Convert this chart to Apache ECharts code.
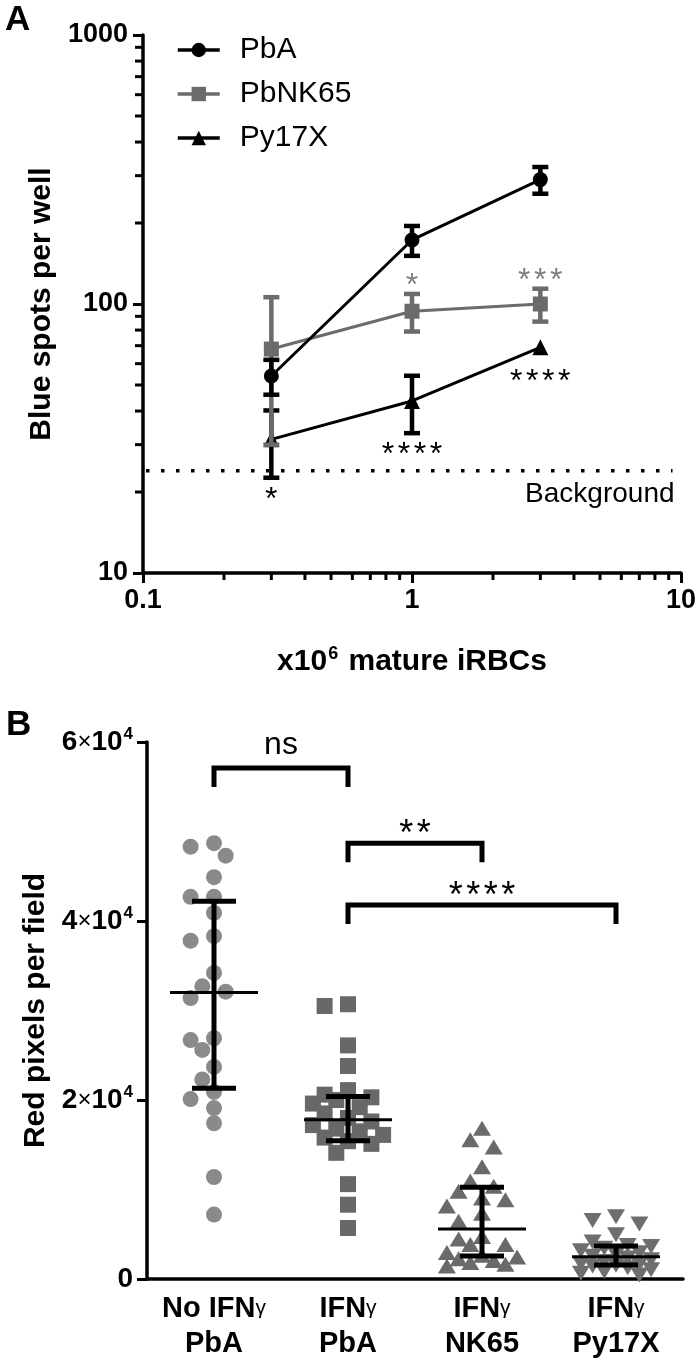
<!DOCTYPE html>
<html><head><meta charset="utf-8">
<script src="https://cdn.jsdelivr.net/npm/echarts@6/dist/echarts.min.js"></script>
<style>html,body{margin:0;padding:0;background:#fff}#c{width:700px;height:1366px}</style>
</head><body><div id="c"></div>
<script>
// ---------- Panel A data ----------
const doseA = [0.3, 1, 3];
const pbaMean = [54, 173, 290];
const pbaErr = [8, 22, 33];
const nk65Mean = [68, 94, 100];
const nk65Err = [38, 15, 14];
const py17Mean = [31.4, 43.6, 69];
const py17Err = [8.8, 10.5, 0];
const backgroundLevel = 24;
const backgroundRange = [0.1, 9.3];
const xTickLabelsA = ['0.1', '1', '10'];
const yTickLabelsA = ['10', '100', '1000'];
const sigAX = [0.3, 1, 3, 1, 3];
const sigASeries = ['Py17X', 'PbNK65', 'PbNK65', 'Py17X', 'Py17X'];
const sigASide = ['below', 'above', 'above', 'below', 'below'];
const sigAText = ['*', '*', '***', '****', '****'];

// ---------- Panel B data ----------
const catsB = ['No IFNγ\nPbA', 'IFNγ\nPbA', 'IFNγ\nNK65', 'IFNγ\nPy17X'];
const noIfnPbA = [48700, 48300, 47300, 44900, 42700, 42700, 40900, 37800, 38300, 34200, 32700, 32100, 31400, 26900, 26700, 25600, 23700, 22300, 20900, 20100, 19100, 17400, 11400, 7200];
const ifnPbA = [30700, 30500, 26100, 23800, 21100, 20600, 20300, 20000, 19600, 19200, 18500, 18000, 17600, 17200, 16800, 16500, 16100, 15800, 15400, 15100, 14100, 10600, 8300, 5700];
const ifnNK65 = [16800, 15500, 14700, 12500, 10900, 10300, 9750, 9000, 8800, 8100, 7300, 6400, 4700, 4400, 3800, 3800, 2900, 2600, 2400, 2200, 2000, 1800, 1600, 1400];
const ifnPy17X = [7000, 6600, 6200, 5000, 4200, 3800, 3700, 3500, 3200, 3000, 2800, 2600, 2400, 2200, 2000, 1800, 1700, 1600, 1500, 1300, 1100, 900, 700, 500];
const medianB = [32000, 17800, 5600, 2500];
const q1B = [21300, 15450, 2570, 1560];
const q3B = [42200, 20400, 10250, 3700];
const yTicksB = [0, 20000, 40000, 60000];
const bracketFrom = [0, 1, 1];
const bracketTo = [1, 2, 3];
const bracketLevel = [57100, 48700, 41800];
const bracketText = ['ns', '**', '****'];

// ---------- styles ----------
const FONT = '"Liberation Sans", Arial, sans-serif';
const BLACK = '#000';
const GRAY = '#6b6b6b';
const GRAY_STAR = '#808080';

const chart = echarts.init(document.getElementById('c'));

const seriesA = {
  'PbA': {mean: pbaMean, err: pbaErr, color: BLACK, symbol: 'circle', size: 15},
  'PbNK65': {mean: nk65Mean, err: nk65Err, color: GRAY, symbol: 'rect', size: 15},
  'Py17X': {mean: py17Mean, err: py17Err, color: BLACK, symbol: 'triangle', size: 16}
};

function errRender(color) {
  return function (params, api) {
    const x = api.value(0), m = api.value(1), e = api.value(2);
    if (!e) return null;
    const t = api.coord([x, m + e]), b = api.coord([x, m - e]);
    const cap = 8, lw = 4.5;
    return {type: 'group', children: [
      {type: 'line', shape: {x1: t[0], y1: t[1], x2: b[0], y2: b[1]}, style: {stroke: color, lineWidth: lw}},
      {type: 'line', shape: {x1: t[0] - cap, y1: t[1], x2: t[0] + cap, y2: t[1]}, style: {stroke: color, lineWidth: lw}},
      {type: 'line', shape: {x1: b[0] - cap, y1: b[1], x2: b[0] + cap, y2: b[1]}, style: {stroke: color, lineWidth: lw}}
    ]};
  };
}

function starTexts(cx, cy, text, F, spacing, color) {
  const n = text.length, out = [];
  for (let i = 0; i < n; i++) {
    out.push({type: 'text', style: {text: text[i], x: cx + (i - (n - 1) / 2) * spacing, y: cy + 0.225 * F,
      textAlign: 'center', textVerticalAlign: 'middle', font: F + 'px ' + FONT, fill: color}});
  }
  return out;
}

const series = [];

// minor ticks for the log axes of panel A
const minorTicks = [];
[10, 100].forEach(d => { for (let k = 2; k <= 9; k++) minorTicks.push(k * d); });
const minorTicksX = [];
[0.1, 1].forEach(d => { for (let k = 2; k <= 9; k++) minorTicksX.push(+(k * d).toPrecision(3)); });
series.push({
  type: 'custom', xAxisIndex: 0, yAxisIndex: 0, clip: false, silent: true, z: 1,
  data: [[1, 100]],
  renderItem: function (params, api) {
    const ch = [];
    minorTicks.forEach(v => {
      const p = api.coord([0.1, v]);
      ch.push({type: 'line', shape: {x1: p[0] - 8, y1: p[1], x2: p[0], y2: p[1]}, style: {stroke: BLACK, lineWidth: 3}});
    });
    minorTicksX.forEach(v => {
      const p = api.coord([v, 10]);
      ch.push({type: 'line', shape: {x1: p[0], y1: p[1], x2: p[0], y2: p[1] + 7}, style: {stroke: BLACK, lineWidth: 3}});
    });
    return {type: 'group', children: ch};
  }
});

// background dotted line
series.push({
  type: 'custom', xAxisIndex: 0, yAxisIndex: 0, clip: false, silent: true, z: 2,
  data: [[backgroundRange[0], backgroundLevel, backgroundRange[1]]],
  renderItem: function (params, api) {
    const a = api.coord([api.value(0), api.value(1)]);
    const b = api.coord([api.value(2), api.value(1)]);
    return {type: 'group', children: [
      {type: 'line', shape: {x1: a[0] + 3, y1: a[1], x2: b[0], y2: b[1]},
        style: {stroke: BLACK, lineWidth: 3.5, lineDash: [3.5, 11.5]}},
      {type: 'text', style: {text: 'Background', x: b[0] + 2, y: b[1] + 24, textAlign: 'right', textVerticalAlign: 'middle',
        font: '28px ' + FONT, fill: BLACK}}
    ]};
  }
});

['Py17X', 'PbNK65', 'PbA'].forEach((name, i) => {
  const s = seriesA[name];
  series.push({
    type: 'custom', xAxisIndex: 0, yAxisIndex: 0, clip: false, silent: true, z: 3 + i * 2,
    data: doseA.map((x, j) => [x, s.mean[j], s.err[j]]),
    renderItem: errRender(s.color)
  });
  series.push({
    name: name, type: 'line', xAxisIndex: 0, yAxisIndex: 0, z: 4 + i * 2,
    data: doseA.map((x, j) => [x, s.mean[j]]),
    symbol: s.symbol, symbolSize: s.size, showSymbol: true,
    lineStyle: {color: s.color, width: 3}, itemStyle: {color: s.color}
  });
});

// significance stars panel A
series.push({
  type: 'custom', xAxisIndex: 0, yAxisIndex: 0, clip: false, silent: true, z: 20,
  data: sigAX.map((x, i) => [x, i]),
  renderItem: function (params, api) {
    const i = api.value(1), x = api.value(0);
    const s = seriesA[sigASeries[i]];
    const j = doseA.indexOf(x);
    const m = s.mean[j], e = s.err[j];
    const c = api.coord([x, m]);
    let cy;
    if (sigASide[i] === 'above') {
      const a = api.coord([x, m + e]);
      cy = Math.min(a[1] - 15, c[1] - 30);
    } else {
      const a = api.coord([x, m - e]);
      cy = Math.max(a[1] + 15, c[1] + 28);
    }
    const color = s.color === GRAY ? GRAY_STAR : BLACK;
    return {type: 'group', children: starTexts(c[0], cy, sigAText[i], 32, 16, color)};
  }
});

// ---------- Panel B ----------
function swarm(ys, step, diam, maxSlot) {
  const order = ys.map((y, i) => i).sort((a, b) => ys[a] - ys[b]);
  const placed = [], off = new Array(ys.length).fill(0);
  const cands = [0];
  for (let k = 1; k <= maxSlot; k++) { cands.push(-k, k); }
  for (const i of order) {
    let best = null, bestD = -1;
    for (const m of cands) {
      const dx = m * step;
      let minD = Infinity;
      for (const p of placed) {
        const ddx = dx - p.dx, ddy = ys[i] - p.y;
        minD = Math.min(minD, Math.sqrt(ddx * ddx + ddy * ddy));
      }
      if (minD >= diam * 0.93) { best = dx; break; }
      if (minD > bestD) { bestD = minD; best = dx; }
    }
    off[i] = best;
    placed.push({dx: best, y: ys[i]});
  }
  return off;
}

function swarmRender(values, cat, shape, color, size) {
  return function (params, api) {
    const ctx = params.context;
    if (!ctx.off) {
      const ys = values.map(v => api.coord([cat, v])[1]);
      ctx.off = swarm(ys, 11.7, size, 3);
    }
    const p = api.coord([api.value(0), api.value(1)]);
    const cx = p[0] + ctx.off[params.dataIndex], cy = p[1];
    const h = size / 2;
    if (shape === 'circle') return {type: 'circle', shape: {cx: cx, cy: cy, r: h}, style: {fill: color}};
    if (shape === 'square') return {type: 'rect', shape: {x: cx - h, y: cy - h, width: size, height: size}, style: {fill: color}};
    if (shape === 'up') return {type: 'polygon', shape: {points: [[cx, cy - h], [cx - h - 1, cy + h - 1], [cx + h + 1, cy + h - 1]]}, style: {fill: color}};
    return {type: 'polygon', shape: {points: [[cx, cy + h], [cx - h - 1, cy - h + 1], [cx + h + 1, cy - h + 1]]}, style: {fill: color}};
  };
}

const groupsB = [
  {vals: noIfnPbA, shape: 'circle', color: '#8a8a8a', size: 16},
  {vals: ifnPbA, shape: 'square', color: '#686868', size: 16},
  {vals: ifnNK65, shape: 'up', color: '#6a6a6a', size: 16},
  {vals: ifnPy17X, shape: 'down', color: '#6e6e6e', size: 16}
];
groupsB.forEach((g, ci) => {
  series.push({
    type: 'custom', xAxisIndex: 1, yAxisIndex: 1, clip: false, silent: true, z: 5,
    data: g.vals.map(v => [ci, v]),
    renderItem: swarmRender(g.vals, ci, g.shape, g.color, g.size)
  });
});

// median + IQR
series.push({
  type: 'custom', xAxisIndex: 1, yAxisIndex: 1, clip: false, silent: true, z: 10,
  data: medianB.map((m, i) => [i, m, q1B[i], q3B[i]]),
  renderItem: function (params, api) {
    const i = api.value(0);
    const c = api.coord([i, api.value(1)]), lo = api.coord([i, api.value(2)]), hi = api.coord([i, api.value(3)]);
    return {type: 'group', children: [
      {type: 'line', shape: {x1: c[0] - 44, y1: c[1], x2: c[0] + 44, y2: c[1]}, style: {stroke: BLACK, lineWidth: 3}},
      {type: 'line', shape: {x1: c[0], y1: lo[1], x2: c[0], y2: hi[1]}, style: {stroke: BLACK, lineWidth: 5}},
      {type: 'line', shape: {x1: c[0] - 22, y1: lo[1], x2: c[0] + 22, y2: lo[1]}, style: {stroke: BLACK, lineWidth: 5}},
      {type: 'line', shape: {x1: c[0] - 22, y1: hi[1], x2: c[0] + 22, y2: hi[1]}, style: {stroke: BLACK, lineWidth: 5}}
    ]};
  }
});

// brackets
series.push({
  type: 'custom', xAxisIndex: 1, yAxisIndex: 1, clip: false, silent: true, z: 10,
  data: bracketLevel.map((lv, i) => [bracketFrom[i], lv, bracketTo[i], i]),
  renderItem: function (params, api) {
    const i = api.value(3);
    const a = api.coord([api.value(0), api.value(1)]), b = api.coord([api.value(2), api.value(1)]);
    const leg = 19;
    const ch = [{type: 'polyline', shape: {points: [[a[0], a[1] + leg], [a[0], a[1]], [b[0], b[1]], [b[0], b[1] + leg]]},
      style: {stroke: BLACK, lineWidth: 5, fill: null, lineJoin: 'miter'}}];
    const mx = (a[0] + b[0]) / 2;
    const t = bracketText[i];
    if (t === 'ns') {
      ch.push({type: 'text', style: {text: t, x: mx, y: a[1] - 20 - 0.09 * 32, textAlign: 'center', textVerticalAlign: 'middle',
        font: '32px ' + FONT, fill: BLACK}});
    } else {
      ch.push(...starTexts(mx, a[1] - 16, t, 36, 17.5, BLACK));
    }
    return {type: 'group', children: ch};
  }
});

const axisLineStyle = {color: BLACK, width: 3.5};
const boldLabel = {color: BLACK, fontWeight: 'bold', fontFamily: FONT, fontSize: 27};

const option = {
  animation: false,
  backgroundColor: '#fff',
  grid: [
    {left: 143, top: 35, width: 538, height: 538},
    {left: 147, top: 742, width: 536, height: 537}
  ],
  legend: {
    data: ['PbA', 'PbNK65', 'Py17X'], orient: 'vertical', left: 171, top: 28,
    itemWidth: 42, itemHeight: 18, itemGap: 10,
    lineStyle: {width: 3.5},
    textStyle: {fontSize: 30, fontFamily: FONT, color: BLACK, lineHeight: 34, padding: [0, 0, 0, 15]}
  },
  xAxis: [
    {gridIndex: 0, type: 'log', logBase: 10, min: 0.1, max: 10,
      axisLine: {lineStyle: axisLineStyle}, axisTick: {length: 10, lineStyle: {width: 3, color: BLACK}},
      axisLabel: Object.assign({margin: 14, formatter: v => xTickLabelsA[Math.round(Math.log10(v)) + 1]}, boldLabel),
      splitLine: {show: false},
      name: '{n|x10}{s|6}{n| mature iRBCs}', nameLocation: 'middle', nameGap: 72,
      nameTextStyle: {rich: {
        n: {fontSize: 30, fontWeight: 'bold', fontFamily: FONT, color: BLACK},
        s: {fontSize: 18, fontWeight: 'bold', fontFamily: FONT, color: BLACK, padding: [0, 2, 15, 1]}
      }}},
    {gridIndex: 1, type: 'category', data: catsB, boundaryGap: true,
      axisLine: {lineStyle: axisLineStyle}, axisTick: {alignWithLabel: true, length: 10, lineStyle: {width: 3, color: BLACK}},
      axisLabel: {margin: 12, interval: 0, lineHeight: 35,
        formatter: v => v.split('\n').map(l => l.indexOf('γ') >= 0 ? '{b|' + l.replace('γ', '') + '}{g|γ}' : '{b|' + l + '}').join('\n'),
        rich: {
          b: {fontSize: 29, fontWeight: 'bold', fontFamily: FONT, color: BLACK, lineHeight: 35},
          g: {fontSize: 21, fontFamily: FONT, color: BLACK, lineHeight: 35}
        }},
      splitLine: {show: false}}
  ],
  yAxis: [
    {gridIndex: 0, type: 'log', logBase: 10, min: 10, max: 1000,
      axisLine: {lineStyle: axisLineStyle}, axisTick: {length: 10, lineStyle: {width: 3, color: BLACK}},
      axisLabel: Object.assign({margin: 15, formatter: v => yTickLabelsA[Math.round(Math.log10(v)) - 1]}, boldLabel),
      splitLine: {show: false},
      name: 'Blue spots per well', nameLocation: 'middle', nameGap: 86,
      nameTextStyle: {fontSize: 30, fontWeight: 'bold', fontFamily: FONT, color: BLACK}},
    {gridIndex: 1, type: 'value', min: yTicksB[0], max: yTicksB[yTicksB.length - 1], interval: yTicksB[1] - yTicksB[0],
      axisLine: {show: true, lineStyle: axisLineStyle}, axisTick: {show: true, length: 10, lineStyle: {width: 3, color: BLACK}},
      axisLabel: {margin: 14,
        formatter: v => v === 0 ? '{b|0}' : '{b|' + (v / 10000) + '}{x|×}{b|10}{s|4}',
        rich: {
          b: {fontSize: 28, fontWeight: 'bold', fontFamily: FONT, color: BLACK},
          x: {fontSize: 24, fontFamily: FONT, color: BLACK},
          s: {fontSize: 17, fontWeight: 'bold', fontFamily: FONT, color: BLACK, padding: [0, 0, 15, 1]}
        }},
      splitLine: {show: false},
      name: 'Red pixels per field', nameLocation: 'middle', nameGap: 92,
      nameTextStyle: {fontSize: 30, fontWeight: 'bold', fontFamily: FONT, color: BLACK}}
  ],
  graphic: [
    {type: 'text', left: 5, top: 3, style: {text: 'A', font: 'bold 35px ' + FONT, fill: BLACK}},
    {type: 'text', left: 6, top: 708, style: {text: 'B', font: 'bold 35px ' + FONT, fill: BLACK}}
  ],
  series: series
};
chart.setOption(option);
</script>
</body></html>
